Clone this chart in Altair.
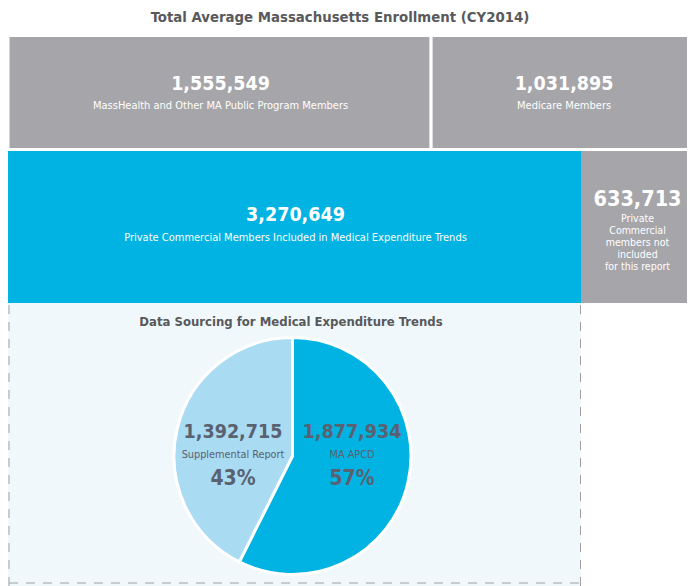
import altair as alt
import pandas as pd

# ---------------- data ----------------
title = "Total Average Massachusetts Enrollment (CY2014)"
top_labels = ["MassHealth and Other MA Public Program Members", "Medicare Members"]
top_values = [1555549, 1031895]
bottom_labels = ["Private Commercial Members Included in Medical Expenditure Trends",
                 "Private|Commercial|members not|included|for this report"]
bottom_values = [3270649, 633713]
pie_title = "Data Sourcing for Medical Expenditure Trends"
pie_labels = ["MA APCD", "Supplemental Report"]
pie_values = [1877934, 1392715]

# ---------------- layout ----------------
W, H = 679, 578
FONT = "Liberation Sans Narrow, DejaVu Sans Condensed, Arial Narrow, sans-serif"
GRAY = "#a6a5a9"
BLUE = "#00b3e3"
LIGHT = "#a9dbf2"
PANEL = "#f0f8fc"
DARK = "#58595b"
PIETXT = "#5a6170"

rows = [
    dict(labels=top_labels, values=top_values, y0=27.5, y1=141.5, span=1.0365,
         colors=[GRAY, GRAY], ynum=76, ysub=98, row="top"),
    dict(labels=bottom_labels, values=bottom_values, y0=143, y1=295, span=1.0074,
         colors=[BLUE, GRAY], ynum=207, ysub=230, row="bottom"),
]

recs = []
for r in rows:
    tot = sum(r["values"])
    cum = 0
    for lab, v, c in zip(r["labels"], r["values"], r["colors"]):
        x0 = cum / tot * W * r["span"]
        cum += v
        x1 = cum / tot * W * r["span"]
        recs.append(dict(row=r["row"], label=lab, value=v, num=f"{v:,}", color=c,
                         x0=x0, x1=x1, y0=r["y0"], y1=r["y1"],
                         xc=(x0 + min(x1, W + 8)) / 2 + 1,
                         ynum=r["ynum"], ysub=r["ysub"]))
boxes = pd.DataFrame(recs)
# narrow gray box has a stacked label
narrow = boxes["label"].str.contains(r"\|")
boxes.loc[narrow, "ynum"] = 192
boxes.loc[narrow, "ysub"] = 206
boxes["big"] = narrow

blue_right = float(boxes.loc[boxes["color"] == BLUE, "x1"].iloc[0])

xs = alt.Scale(domain=[0, W], range=[0, W])
ys = alt.Scale(domain=[0, H], range=[0, H])
X = lambda f: alt.X(f, type="quantitative", scale=xs, axis=None)
Y = lambda f: alt.Y(f, type="quantitative", scale=ys, axis=None)

base = alt.Chart(boxes)

top_rects = base.transform_filter("datum.row == 'top'").mark_rect(
    stroke="white", strokeWidth=3, clip=True
).encode(x=X("x0"), x2="x1", y=Y("y0"), y2="y1",
         color=alt.Color("color:N", scale=None))

bottom_rects = base.transform_filter("datum.row == 'bottom'").mark_rect(clip=True).encode(
    x=X("x0"), x2="x1", y=Y("y0"), y2="y1", color=alt.Color("color:N", scale=None))

nums = base.transform_filter("!datum.big").mark_text(
    font=FONT, fontSize=19.5, fontWeight="bold", color="white", baseline="middle"
).encode(x=X("xc"), y=Y("ynum"), text="num:N")

nums_big = base.transform_filter("datum.big").mark_text(
    font=FONT, fontSize=21.5, fontWeight="bold", color="white", baseline="middle"
).encode(x=X("xc"), y=Y("ynum"), text="num:N")

subs_single = base.transform_filter("indexof(datum.label, '|') < 0").mark_text(
    font=FONT, fontSize=11, color="white", baseline="middle"
).encode(x=X("xc"), y=Y("ysub"), text="label:N")

subs_multi = base.transform_filter("indexof(datum.label, '|') >= 0").mark_text(
    font=FONT, fontSize=10.5, color="white", baseline="top", lineBreak="|", lineHeight=12
).encode(x=X("xc"), y=Y("ysub"), text="label:N")

# title
title_df = pd.DataFrame({"t": [title], "x": [332], "y": [9.5]})
title_layer = alt.Chart(title_df).mark_text(
    font=FONT, fontSize=14.8, fontWeight="bold", color=DARK, baseline="middle"
).encode(x=X("x"), y=Y("y"), text="t:N")

# panel
panel_df = pd.DataFrame({"x0": [0], "x1": [blue_right], "y0": [295], "y1": [H]})
panel = alt.Chart(panel_df).mark_rect(color=PANEL).encode(
    x=X("x0"), x2="x1", y=Y("y0"), y2="y1")
dash_df = pd.DataFrame({
    "xa": [1, blue_right - 0.5, 1], "xb": [1, blue_right - 0.5, blue_right],
    "ya": [297, 297, 575], "yb": [H, H, 575]})
dashes = alt.Chart(dash_df).mark_rule(color="#a0a0a0", strokeWidth=1, strokeDash=[9, 8]).encode(
    x=X("xa"), x2="xb", y=Y("ya"), y2="yb")

ptitle_df = pd.DataFrame({"t": [pie_title], "x": [283], "y": [314]})
ptitle = alt.Chart(ptitle_df).mark_text(
    font=FONT, fontSize=13, fontWeight="bold", color=DARK, baseline="middle"
).encode(x=X("x"), y=Y("y"), text="t:N")

# pie
CX, CY, R = 284.5, 448, 118.5
tot = sum(pie_values)
pie_df = pd.DataFrame({
    "label": pie_labels, "value": pie_values, "order": [0, 1],
    "num": [f"{v:,}" for v in pie_values],
    "pct": [f"{round(v / tot * 100)}%" for v in pie_values],
    "color": [BLUE, LIGHT],
    "lx": [CX + 59.5, CX - 59.5],
})
pie = alt.Chart(pie_df).mark_arc(outerRadius=R, stroke="white", strokeWidth=3).encode(
    theta=alt.Theta("value:Q", stack=True),
    order=alt.Order("order:Q"),
    color=alt.Color("color:N", scale=None),
    x=alt.value(CX), y=alt.value(CY))

pie_num = alt.Chart(pie_df).mark_text(font=FONT, fontSize=19.5, fontWeight="bold",
                                      color=PIETXT, baseline="middle").encode(
    x=X("lx"), y=alt.value(CY - 24), text="num:N")
pie_sub = alt.Chart(pie_df).mark_text(font=FONT, fontSize=10.8, color=PIETXT,
                                      baseline="middle").encode(
    x=X("lx"), y=alt.value(CY - 1), text="label:N")
pie_pct = alt.Chart(pie_df).mark_text(font=FONT, fontSize=21, fontWeight="bold",
                                      color=PIETXT, baseline="middle").encode(
    x=X("lx"), y=alt.value(CY + 23), text="pct:N")

chart = alt.layer(
    title_layer, top_rects, bottom_rects, nums, nums_big, subs_single, subs_multi,
    panel, dashes, ptitle, pie, pie_num, pie_sub, pie_pct
).properties(
    width=W, height=H, padding=0,
    autosize=alt.AutoSizeParams(type="fit", contains="padding"),
    background="white",
).configure_view(stroke=None)

chart.save("out.html", embed_options={"renderer": "svg", "actions": False})
